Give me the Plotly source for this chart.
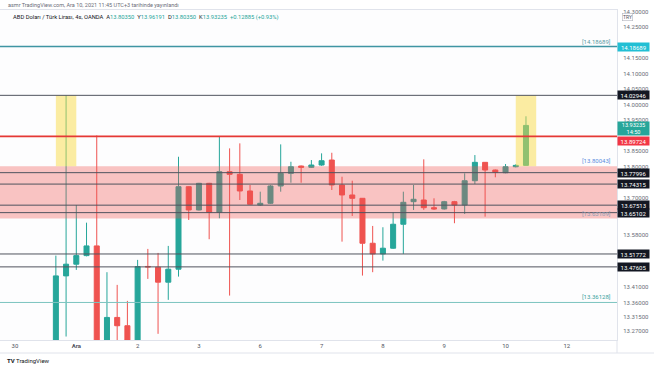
import plotly.graph_objects as go

# ---------------- data (4h candles, index 0 = 1 Dec 00:00) ----------------
idx = list(range(-2, 45))
opens = [13.2200, 13.4470, 13.4847, 13.5124, 13.5437, 13.2250, 13.3130, 13.2862, 13.2380, 13.4775,
         13.4750, 13.4267, 13.4686, 13.7347, 13.6596, 13.7456, 13.6522, 13.7830, 13.7746, 13.7209,
         13.6757, 13.6812, 13.7370, 13.7778, 13.8014, 13.7972, 13.8046, 13.8207, 13.7402, 13.7080,
         13.6973, 13.5523, 13.5179, 13.5363, 13.6136, 13.6864, 13.6918, 13.6670, 13.6629, 13.6864,
         13.6757, 13.7540, 13.8133, 13.7885, 13.7798, 13.7991, 13.80350]
highs = [13.5124, 14.0290, 13.6757, 13.6187, 13.9000, 13.4589, 13.4180, 13.3664, 13.4986, 13.5340,
         13.5211, 13.5437, 13.8313, 13.7360, 13.7470, 13.7470, 13.8980, 13.8584, 13.8745, 13.7402,
         13.7186, 13.7400, 13.8713, 13.8152, 13.8030, 13.8207, 13.8423, 13.8442, 13.7669, 13.7540,
         13.6980, 13.6081, 13.6039, 13.6522, 13.7186, 13.7402, 13.8230, 13.6973, 13.6890, 13.6890,
         13.7778, 13.8368, 13.8140, 13.7900, 13.8078, 13.8070, 13.96191]
lows = [13.2000, 13.2514, 13.4663, 13.5100, 13.2000, 13.2000, 13.2300, 13.2200, 13.2300, 13.4373,
        13.2601, 13.3697, 13.4447, 13.6274, 13.6580, 13.5653, 13.6329, 13.3835, 13.6918, 13.6770,
        13.6730, 13.6790, 13.7186, 13.7476, 13.7476, 13.7950, 13.8020, 13.7241, 13.5575, 13.6403,
        13.4480, 13.4589, 13.4963, 13.5340, 13.5179, 13.6596, 13.6600, 13.6600, 13.6610, 13.6169,
        13.6467, 13.7434, 13.6381, 13.7650, 13.7780, 13.7970, 13.80350]
closes = [13.4470, 13.4847, 13.5124, 13.5437, 13.2250, 13.3130, 13.2862, 13.2380, 13.4770, 13.4760,
          13.4267, 13.4686, 13.7347, 13.6596, 13.7456, 13.6522, 13.7830, 13.7746, 13.7209, 13.6780,
          13.6812, 13.7370, 13.7778, 13.7991, 13.7972, 13.8046, 13.8185, 13.7402, 13.7080, 13.6973,
          13.5523, 13.5179, 13.5363, 13.6136, 13.6844, 13.6941, 13.6670, 13.6629, 13.6864, 13.6757,
          13.7540, 13.8133, 13.7885, 13.7811, 13.7991, 13.8035, 13.93235]

x_tickvals = [-6, 0, 6, 12, 18, 24, 30, 36, 42, 48]
x_ticktext = ["30", "<b>Ara</b>", "2", "3", "6", "7", "8", "9", "10", "12"]
y_tickvals = [14.30, 14.25, 14.15, 14.10, 14.05, 14.00, 13.95, 13.85, 13.80,
              13.70, 13.58, 13.41, 13.36, 13.315, 13.27]

level_black = [14.02946, 13.77996, 13.74315, 13.67513, 13.65102, 13.51772, 13.47605]
level_red = 13.89724
level_cyan = 14.18689
level_teal = 13.36128
zone = [13.63189, 13.80043]
highlight_boxes = [(-2, 0), (43, 45)]
last_price = 13.93235
countdown = "14:50"
header1 = "asmr TradingView.com, Ara 10, 2021 11:45 UTC+3 tarihinde yayınlandı"
symbol = "ABD Doları / Türk Lirası, 4s, OANDA"
ohlc_text = [("A", "13.80350"), ("Y", "13.96191"), ("D", "13.80350"), ("K", "13.93235")]
change_text = "+0.12885 (+0.93%)"

# ---------------- styling ----------------
G = "#26a69a"
R = "#ef5350"
W, H = 654, 366
PL, PR, PT, PB = 0, 37, 10, 26
PW, PH = W - PL - PR, H - PT - PB
FONT = "Roboto, Liberation Sans, sans-serif"


def px_x(px):
    return (px - PL) / PW


def px_y(py):
    return (H - PB - py) / PH


fig = go.Figure(go.Candlestick(
    x=idx, open=opens, high=highs, low=lows, close=closes,
    increasing=dict(line=dict(color=G, width=1), fillcolor=G),
    decreasing=dict(line=dict(color=R, width=1), fillcolor=R),
    whiskerwidth=0, hoverinfo="skip", showlegend=False,
))

shapes = []
# pink zone
shapes.append(dict(type="rect", xref="paper", x0=0, x1=1, yref="y", y0=zone[0], y1=zone[1],
                   fillcolor="rgba(239,83,80,0.34)", line=dict(width=0), layer="above"))
# yellow highlight boxes
for a, b in highlight_boxes:
    shapes.append(dict(type="rect", xref="x", x0=a, x1=b, yref="y", y0=zone[1], y1=level_black[0],
                       fillcolor="rgba(250,220,70,0.5)", line=dict(width=0), layer="above"))
# horizontal levels
for v in level_black:
    shapes.append(dict(type="line", xref="paper", x0=0, x1=1, yref="y", y0=v, y1=v,
                       line=dict(color="#50535e", width=1), layer="above"))
shapes.append(dict(type="line", xref="paper", x0=0, x1=1, yref="y", y0=level_red, y1=level_red,
                   line=dict(color="#e53935", width=1.8), layer="above"))
shapes.append(dict(type="line", xref="paper", x0=0, x1=1, yref="y", y0=level_cyan, y1=level_cyan,
                   line=dict(color="#3f95a3", width=1.4), layer="above"))
shapes.append(dict(type="line", xref="paper", x0=0, x1=1, yref="y", y0=level_teal, y1=level_teal,
                   line=dict(color="#7cc4c0", width=1), layer="above"))
# frame lines below time axis
shapes.append(dict(type="line", xref="paper", x0=0, x1=px_x(W), yref="paper",
                   y0=px_y(353), y1=px_y(353), line=dict(color="#e0e3eb", width=1)))
shapes.append(dict(type="line", xref="paper", x0=1, x1=1, yref="paper",
                   y0=px_y(353), y1=0, line=dict(color="#e0e3eb", width=1)))

ann = []


def axis_box(v, text, bg, fg="white", yshift=0, height=6, size=6):
    ann.append(dict(xref="paper", x=1, xanchor="left", xshift=0, yref="y", y=v, yanchor="middle",
                    yshift=yshift, text=text, showarrow=False, bgcolor=bg,
                    font=dict(size=size, color=fg, family=FONT), width=29, height=height,
                    borderpad=1, align="center"))


for v in level_black:
    axis_box(v, f"{v:.5f}", "#131722")
axis_box(level_cyan, f"{level_cyan:.5f}", "#22bfd4")
axis_box(last_price, f"{last_price:.5f}<br>{countdown}", G, yshift=-3.5, height=11, size=5.6)
axis_box(level_red, f"{level_red:.5f}", "#f23645", yshift=-5)


def bracket(v, text, color):
    ann.append(dict(xref="paper", x=px_x(613), xanchor="right", yref="y", y=v, yanchor="bottom",
                    yshift=0, text=f"[{text}]", showarrow=False,
                    font=dict(size=6, color=color, family=FONT)))


bracket(level_cyan, f"{level_cyan:.5f}", "#5a9aa5")
bracket(zone[1], f"{zone[1]:.5f}", "#5b8de0")
bracket(zone[0], f"{zone[0]:.5f}", "#8c9bb3")
bracket(level_teal, f"{level_teal:.5f}", "#3aa3a0")

# TRY currency box
ann.append(dict(xref="paper", x=1, xanchor="left", xshift=5, yref="paper", y=px_y(17), yanchor="middle",
                text="TRY", showarrow=False, bgcolor="white", bordercolor="#b2b5be", borderwidth=0.6,
                borderpad=0.5, font=dict(size=5, color="#50535e", family=FONT)))

# headers
ann.append(dict(xref="paper", x=px_x(6), xanchor="left", yref="paper", y=px_y(5), yanchor="middle",
                text=header1, showarrow=False, font=dict(size=5.5, color="#6a6d78", family=FONT)))
parts = [f"<span style='color:#131722'>{symbol}</span>"]
for k, val in ohlc_text:
    parts.append(f"<span style='color:#131722'>{k}</span><span style='color:{G}'>{val}</span>")
parts.append(f"<span style='color:{G}'>{change_text}</span>")
ann.append(dict(xref="paper", x=px_x(11), xanchor="left", yref="paper", y=px_y(17.5), yanchor="middle",
                text="  ".join(parts), showarrow=False, font=dict(size=5.8, family=FONT)))
# logo
ann.append(dict(xref="paper", x=px_x(5), xanchor="left", yref="paper", y=px_y(360), yanchor="middle",
                text="<b>TV</b> TradingView", showarrow=False, font=dict(size=6, color="#131722", family=FONT)))

fig.update_layout(
    width=W, height=H,
    margin=dict(l=PL, r=PR, t=PT, b=PB),
    paper_bgcolor="#ffffff", plot_bgcolor="#fdfdfe",
    font=dict(family=FONT),
    shapes=shapes, annotations=ann,
    showlegend=False,
    xaxis=dict(range=[-7.466, 52.906], tickvals=x_tickvals, ticktext=x_ticktext,
               tickfont=dict(size=6, color="#50535e"), showgrid=False, zeroline=False,
               showline=True, linecolor="#e0e3eb", linewidth=1, mirror=True, ticks="",
               rangeslider=dict(visible=False), fixedrange=True),
    yaxis=dict(range=[13.2402, 14.3047], side="right", tickvals=y_tickvals,
               ticktext=[f"{v:.5f}" for v in y_tickvals],
               tickfont=dict(size=6, color="#6a6d78"), showgrid=False, zeroline=False,
               showline=True, linecolor="#e0e3eb", linewidth=1, mirror=True, ticks="",
               ticklabelstandoff=4, fixedrange=True),
)

fig.write_html("out.html", config={"displayModeBar": False},
               post_script="document.body.style.margin='0px';document.body.style.overflow='hidden';")
